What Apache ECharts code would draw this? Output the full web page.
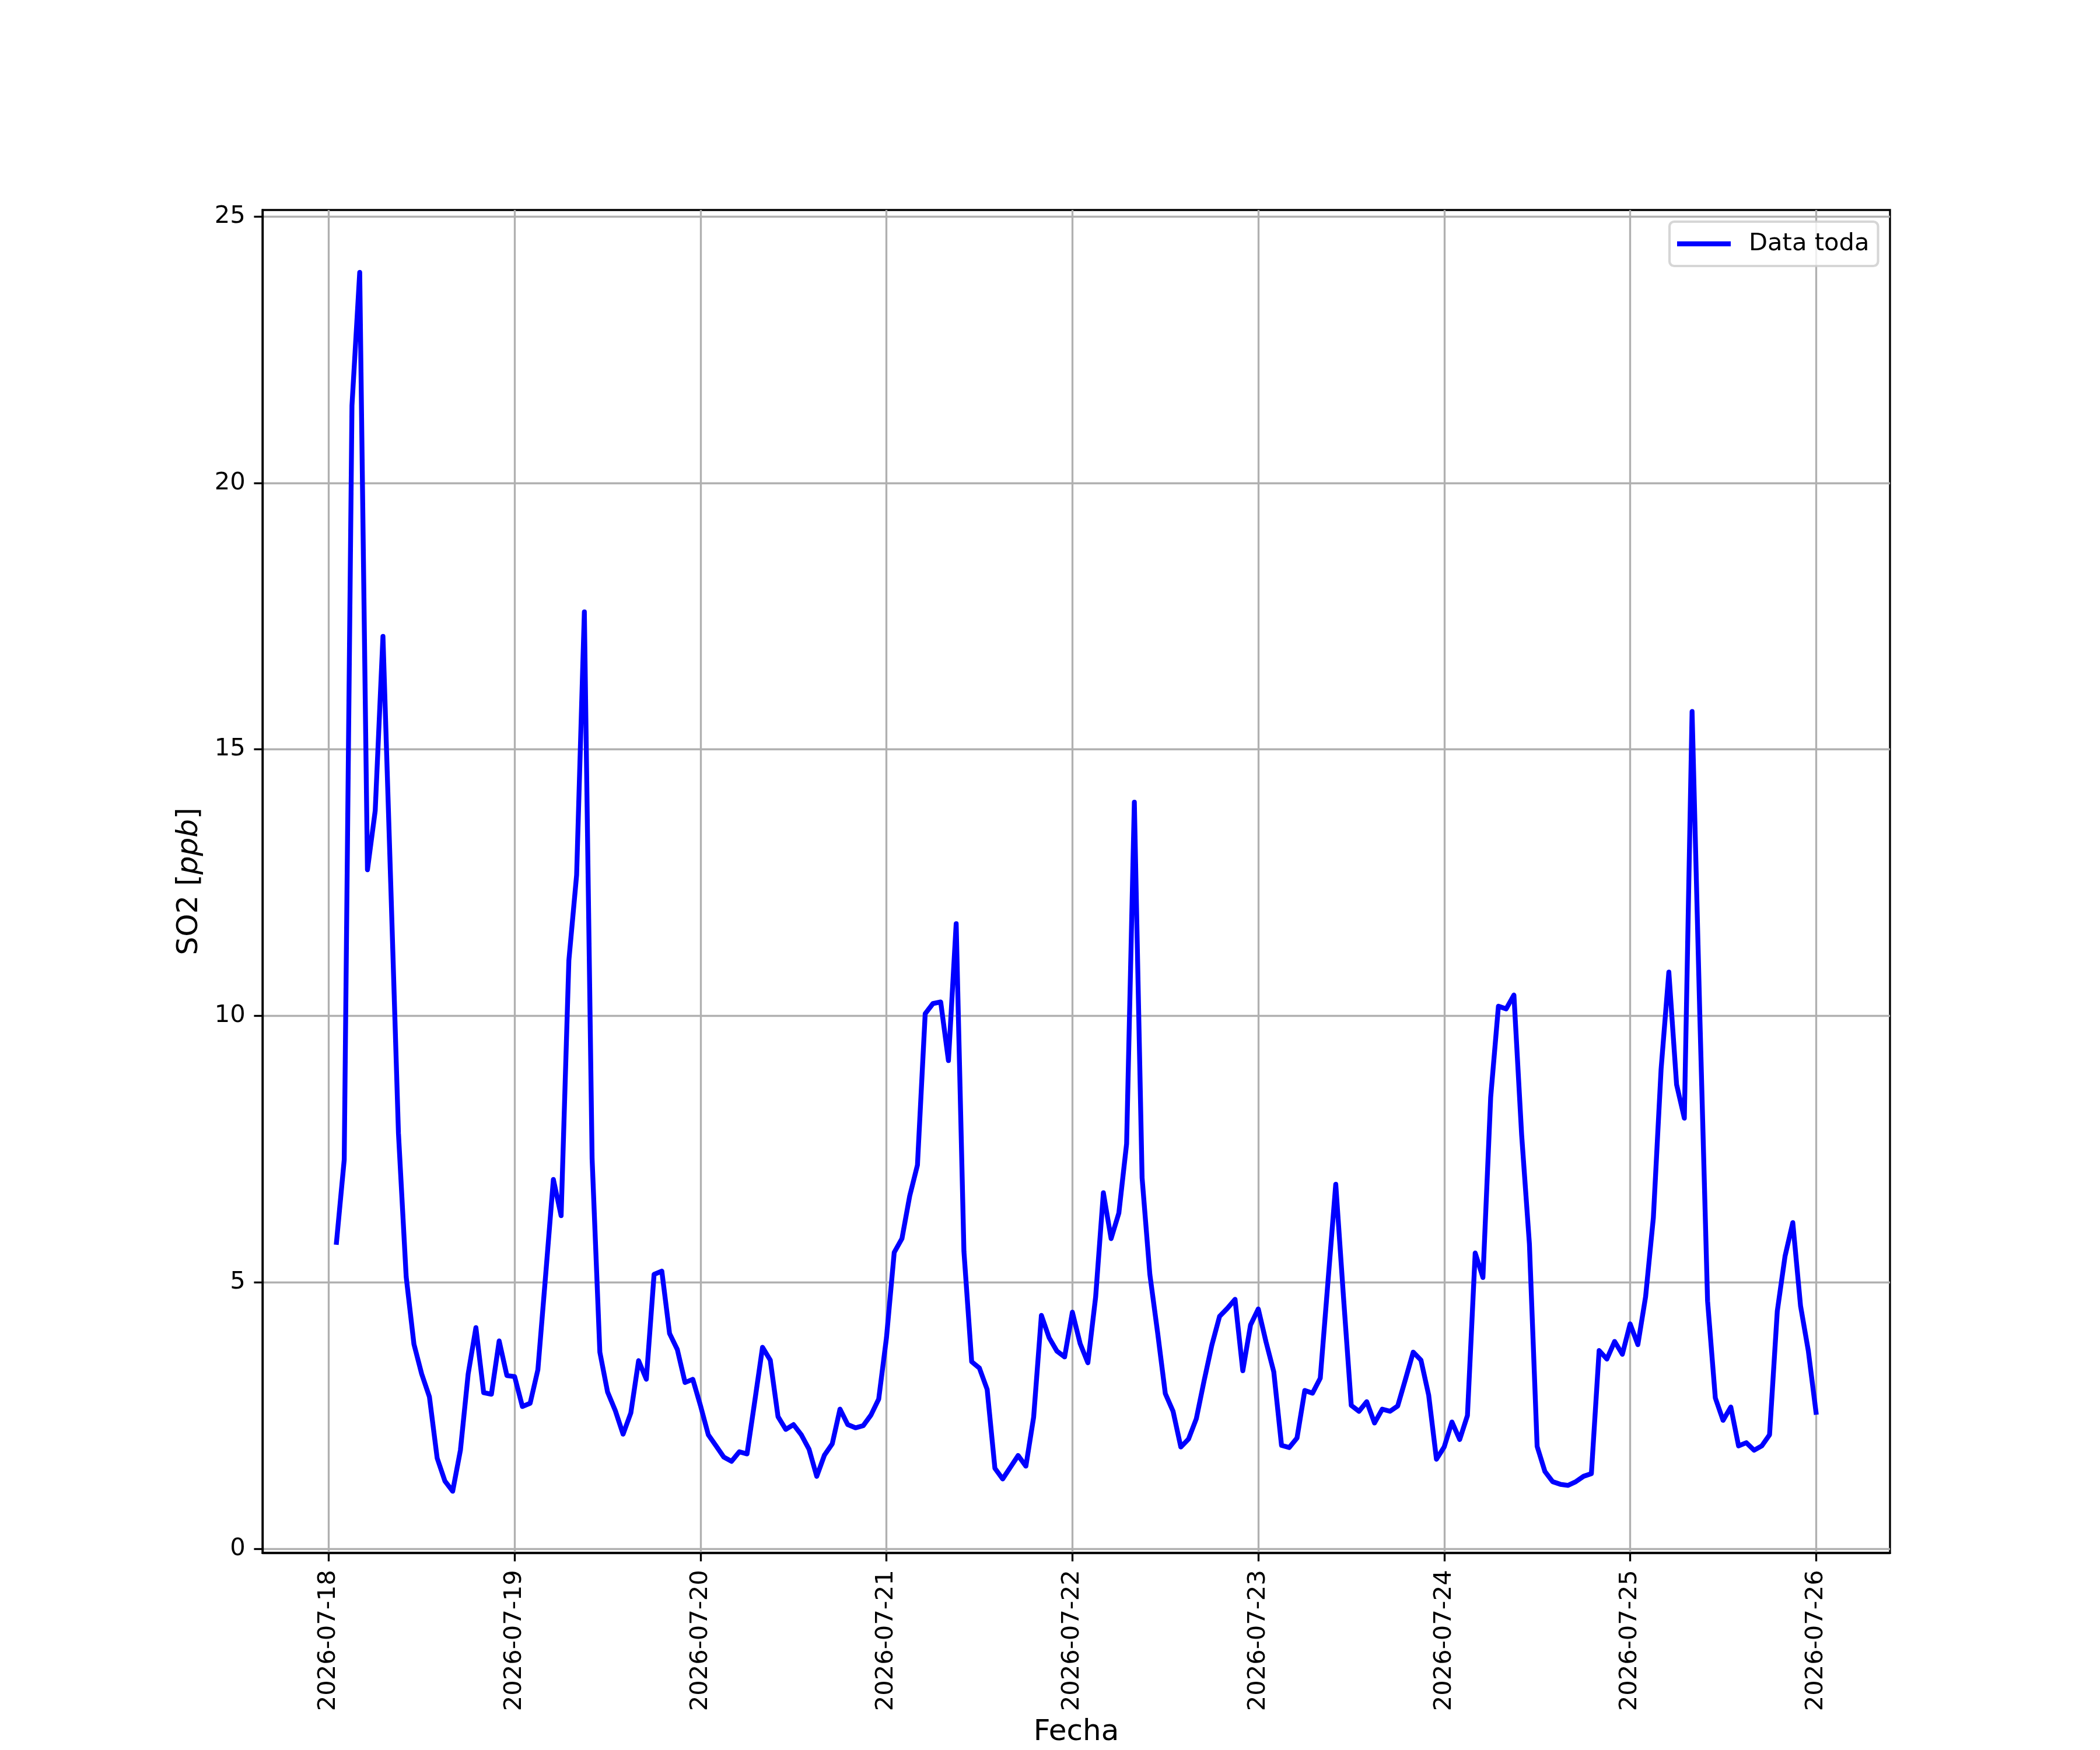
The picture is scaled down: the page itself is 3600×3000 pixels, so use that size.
<!DOCTYPE html>
<html>
<head>
<meta charset="utf-8">
<script src="https://cdn.jsdelivr.net/npm/echarts@6/dist/echarts.min.js"></script>
<style>
html,body{margin:0;padding:0;background:#ffffff;}
#chart{width:3600px;height:3000px;}
</style>
</head>
<body>
<div id="chart"></div>
<script>
// ---- data (hourly SO2 in ppb, first point 2026-07-18 01:00) ----
const tickLabels = ['2026-07-18','2026-07-19','2026-07-20','2026-07-21','2026-07-22','2026-07-23','2026-07-24','2026-07-25','2026-07-26'];
const tickHours  = [0, 24, 48, 72, 96, 120, 144, 168, 192];
const yTicks     = [0, 5, 10, 15, 20, 25];
const seriesName = 'Data toda';

const so2_0718 = [5.75, 7.3, 21.45, 23.95, 12.74, 13.85, 17.12, 12.5, 7.8, 5.1, 3.84, 3.28, 2.85, 1.70, 1.27, 1.08, 1.85, 3.28, 4.15, 2.93, 2.90, 3.90, 3.25, 3.23];
const so2_0719 = [2.67, 2.73, 3.36, 5.13, 6.93, 6.25, 11.04, 12.64, 17.58, 7.32, 3.69, 2.94, 2.59, 2.15, 2.55, 3.53, 3.18, 5.15, 5.21, 4.04, 3.74, 3.12, 3.18, 2.68];
const so2_0720 = [2.14, 1.93, 1.72, 1.64, 1.82, 1.78, 2.77, 3.78, 3.54, 2.48, 2.24, 2.33, 2.14, 1.87, 1.36, 1.76, 1.97, 2.62, 2.33, 2.27, 2.31, 2.51, 2.81, 3.96];
const so2_0721 = [5.56, 5.82, 6.62, 7.20, 10.04, 10.23, 10.26, 9.16, 11.73, 5.58, 3.51, 3.39, 2.99, 1.51, 1.31, 1.53, 1.75, 1.55, 2.47, 4.38, 3.96, 3.71, 3.60, 4.44];
const so2_0722 = [3.85, 3.49, 4.72, 6.68, 5.82, 6.30, 7.60, 14.01, 6.96, 5.15, 4.06, 2.91, 2.58, 1.91, 2.06, 2.44, 3.15, 3.82, 4.36, 4.51, 4.68, 3.34, 4.20, 4.50];
const so2_0723 = [3.88, 3.32, 1.94, 1.90, 2.08, 2.97, 2.92, 3.20, 5.02, 6.84, 4.72, 2.69, 2.58, 2.76, 2.36, 2.62, 2.58, 2.68, 3.18, 3.69, 3.54, 2.88, 1.68, 1.91];
const so2_0724 = [2.38, 2.05, 2.50, 5.55, 5.09, 8.47, 10.18, 10.13, 10.39, 7.76, 5.72, 1.92, 1.45, 1.26, 1.21, 1.19, 1.26, 1.36, 1.41, 3.72, 3.56, 3.89, 3.65, 4.22];
const so2_0725 = [3.83, 4.73, 6.21, 9.00, 10.82, 8.71, 8.08, 15.71, 10.00, 4.65, 2.83, 2.41, 2.66, 1.93, 1.99, 1.85, 1.93, 2.14, 4.46, 5.49, 6.12, 4.56, 3.72, 2.56];

const values = [].concat(so2_0718, so2_0719, so2_0720, so2_0721, so2_0722, so2_0723, so2_0724, so2_0725);
// x = hours since 2026-07-18 00:00 (first sample at 01:00)
const points = values.map((v, i) => [i + 1, v]);

// ---- styling ----
const PT = 300 / 72;           // matplotlib points -> px at 300 dpi
const FONT = 'DejaVu Sans';
const firstX = 1, lastX = values.length;
const xPad = 0.05 * (lastX - firstX);

const chart = echarts.init(document.getElementById('chart'), null, {renderer: 'canvas', width: 3600, height: 3000});
chart.setOption({
  backgroundColor: '#ffffff',
  animation: false,
  grid: {
    left: 450, top: 360, width: 2790, height: 2310,
    show: true, borderColor: '#000000', borderWidth: 0.8 * PT, backgroundColor: 'rgba(0,0,0,0)',
    containLabel: false
  },
  legend: {
    show: true,
    left: 2862, top: 380,
    padding: [17, 15, 17, 13],
    itemWidth: 92, itemHeight: 2 * PT,
    backgroundColor: 'rgba(255,255,255,0.8)',
    borderColor: 'rgba(204,204,204,0.8)',
    borderWidth: 1.0 * PT,
    borderRadius: 8,
    selectedMode: false,
    textStyle: {fontFamily: FONT, fontSize: 10 * PT, color: '#000000', padding: [0, 0, 0, 26]},
    data: [{name: seriesName, icon: 'rect', itemStyle: {color: '#0000ff'}}]
  },
  xAxis: {
    type: 'value',
    min: firstX - xPad, max: lastX + xPad,
    name: 'Fecha', nameLocation: 'middle', nameGap: 283,
    nameTextStyle: {fontFamily: FONT, fontSize: 12 * PT, color: '#000000'},
    axisLine: {show: true, onZero: false, lineStyle: {color: '#000000', width: 0.8 * PT}},
    axisTick: {show: true, inside: false, length: 3.5 * PT, customValues: tickHours, lineStyle: {color: '#000000', width: 0.8 * PT}},
    axisLabel: {
      show: true, customValues: tickHours, rotate: 90, margin: 7 * PT,
      fontFamily: FONT, fontSize: 10 * PT, color: '#000000',
      formatter: function (v) { const k = tickHours.indexOf(Math.round(v)); return k >= 0 ? tickLabels[k] : ''; }
    },
    splitLine: {show: true, lineStyle: {color: '#b0b0b0', width: 0.8 * PT}}
  },
  yAxis: {
    type: 'value',
    min: -0.076, max: 25.12,
    name: '{a|SO2 [}{b|ppb}{a|]}', nameLocation: 'middle', nameGap: 100, nameRotate: 90,
    nameTextStyle: {
      fontFamily: FONT, fontSize: 12 * PT, color: '#000000',
      rich: {
        a: {fontFamily: FONT, fontSize: 12 * PT, color: '#000000'},
        b: {fontFamily: FONT, fontSize: 12 * PT, color: '#000000', fontStyle: 'italic'}
      }
    },
    axisLine: {show: true, onZero: false, lineStyle: {color: '#000000', width: 0.8 * PT}},
    axisTick: {show: true, inside: false, length: 3.5 * PT, customValues: yTicks, lineStyle: {color: '#000000', width: 0.8 * PT}},
    axisLabel: {
      show: true, customValues: yTicks, margin: 7 * PT,
      fontFamily: FONT, fontSize: 10 * PT, color: '#000000',
      formatter: function (v) { return String(Math.round(v)); }
    },
    splitLine: {show: true, lineStyle: {color: '#b0b0b0', width: 0.8 * PT}}
  },
  series: [{
    name: seriesName,
    type: 'line',
    data: points,
    showSymbol: false,
    symbol: 'none',
    color: '#0000ff',
    lineStyle: {color: '#0000ff', width: 2 * PT, join: 'round', cap: 'square'},
    clip: true,
    z: 3
  }]
});
</script>
</body>
</html>
